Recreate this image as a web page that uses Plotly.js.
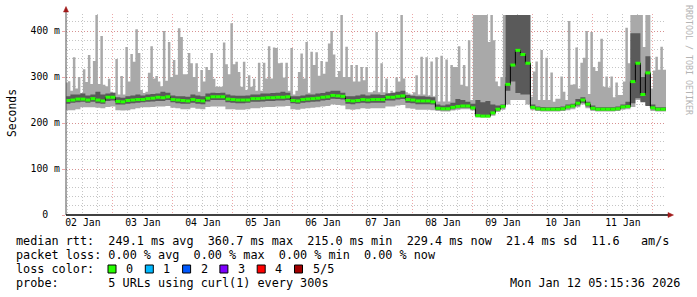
<!DOCTYPE html>
<html><head><meta charset="utf-8">
<script src="https://cdn.plot.ly/plotly-3.0.1.min.js"></script>
<style>html,body{margin:0;padding:0;background:#fff;}#chart{width:697px;height:297px;}</style>
</head><body><div id="chart"></div>
<script>
// ---- data (ms) ----
// hourly maximum RTT (top of smoke), starting 2026-01-02 05:00
const maxRtt = [
 288,291,270,343,275,300,265,317,289,348,
 285,335,435,285,389,283,280,296,268,266,
 339,262,302,262,365,290,350,333,404,352,
 272,265,268,309,367,297,302,290,280,400,
 292,376,300,337,305,406,387,306,306,352,
 330,300,330,268,315,290,322,315,352,296,
 279,279,279,375,328,306,417,328,333,311,
 279,333,272,304,279,296,270,331,270,331,
 297,367,297,364,363,330,331,299,331,270,
 363,262,270,311,351,297,376,266,355,326,
 354,303,335,307,333,373,400,349,300,313,
 435,300,366,300,326,290,326,290,322,293,
 322,267,267,270,398,267,330,267,297,265,
 270,267,299,290,435,297,267,264,262,267,
 304,262,344,262,343,260,334,258,343,247,
 346,247,338,247,326,322,322,367,283,326,
 280,380,250,435,435,435,435,435,435,376,
 435,380,290,280,300,435,300,435,435,435,
 435,435,435,435,435,435,257,312,334,250,
 359,250,342,250,310,246,253,253,301,268,
 250,422,283,284,364,275,331,342,400,263,
 398,322,313,333,383,279,301,277,301,256,
 288,261,261,290,407,330,435,435,435,435,
 435,365,435,435,275,314,344,316,366,316,
 316];
// 2-hourly series, starting 2026-01-02 05:00
const minRtt = [
 228,228,230,234,234,234,233,232,235,236,228,227,228,230,232,234,234,235,236,236,237,233,232,230,230,233,231,230,235,236,
 236,236,230,230,229,229,230,232,232,234,235,235,236,236,237,230,229,231,232,233,234,236,237,240,239,238,230,229,230,232,
 231,232,232,232,236,236,238,239,232,231,229,229,229,228,226,225,225,227,229,230,230,227,212,212,212,216,224,229,240,250,
 250,250,240,228,226,225,225,225,225,226,228,230,234,240,232,226,225,225,225,225,226,229,230,235,250,248,240,226,225,225,225];
const darkLo = [
 242,244,245,246,244,246,243,242,248,249,240,240,242,243,244,245,246,247,248,248,250,245,243,242,242,244,242,241,247,250,
 250,250,245,244,243,243,244,246,246,247,248,248,249,249,250,243,242,244,245,246,247,249,250,253,252,251,242,241,243,244,
 243,244,244,244,249,249,251,252,244,243,241,241,241,240,229,228,228,230,232,233,233,230,214,213,213,219,227,232,270,290,
 265,262,262,231,228,227,227,227,227,228,232,234,238,244,236,229,227,227,227,227,228,232,233,243,254,245,237,230,227,227,227];
const darkHi = [
 258,262,262,264,260,262,268,262,264,266,256,255,258,260,262,260,262,263,264,268,266,260,258,258,257,262,260,258,264,266,
 265,266,262,260,259,259,260,262,262,264,264,265,266,268,266,258,258,260,262,262,264,265,268,270,270,266,258,258,260,262,
 260,262,262,261,264,265,268,270,261,259,258,258,257,256,240,238,240,244,252,250,246,242,250,245,248,240,238,240,435,435,
 435,435,435,240,236,235,234,234,235,236,240,242,252,256,246,238,234,234,234,234,236,240,246,395,395,300,345,240,234,234,234];
const medianRtt = [
 249,250,252,252,250,253,250,248,256,256,247,246,249,250,251,251,253,254,256,255,257,251,250,249,248,251,249,248,254,257,
 257,257,252,251,250,250,250,253,253,254,255,255,256,256,257,249,248,251,252,253,254,256,257,260,259,258,249,248,249,251,
 250,251,251,251,256,256,258,259,251,250,248,248,248,246,232,231,231,234,236,237,237,233,216,215,215,222,230,236,284,326,
 358,349,330,234,231,230,230,230,230,231,235,237,243,250,241,232,230,230,230,230,231,235,236,290,330,262,309,233,230,230,230];
const yTickVals = [0,100,200,300,400];
const yTickText = ['0\u00a0\u00a0','100 m','200 m','300 m','400 m'];
const lossLabels = ['0','1','2','3','4','5/5'];
const lossColors = ['#26ff00','#00b8ff','#0059ff','#7e00ff','#ff0000','#a10000'];
const statLine = 'median rtt:  249.1 ms avg  360.7 ms max  215.0 ms min  229.4 ms now  21.4 ms sd  11.6   am/s';
const lossLine = 'packet loss: 0.00 % avg  0.00 % max  0.00 % min  0.00 % now';
const probeLine = 'probe:       5 URLs using curl(1) every 300s';
const stampLine = 'Mon Jan 12 05:15:36 2026';

// ---- build ----
const H = 3600e3;
const t0 = Date.UTC(2026,0,2,5,0,0);
// step series: x at bin starts plus one closing edge, y repeated for the closing edge
function steps(arr, hours) {
  const x = arr.map((_, i) => t0 + i * hours * H).concat([t0 + arr.length * hours * H]);
  const y = arr.concat([arr[arr.length - 1]]);
  return {x, y};
}
const sMin = steps(minRtt, 2), sMax = steps(maxRtt, 1);
const sLo = steps(darkLo, 2), sHi = steps(darkHi, 2), sMed = steps(medianRtt, 2);
const segX = [], segY = [];
medianRtt.forEach((v, k) => { segX.push(t0 + 2*k*H, t0 + 2*(k+1)*H, null); segY.push(v, v, null); });

const LIGHT = '#a9a9a9', DARK = '#5a5a5a';
const traces = [
 {type:'scatter', mode:'lines', x:sMin.x, y:sMin.y, line:{shape:'hv', width:0, color:LIGHT}, hoverinfo:'skip'},
 {type:'scatter', mode:'lines', x:sMax.x, y:sMax.y, line:{shape:'hv', width:0, color:LIGHT}, fill:'tonexty', fillcolor:LIGHT, hoverinfo:'skip'},
 {type:'scatter', mode:'lines', x:sLo.x, y:sLo.y, line:{shape:'hv', width:0, color:DARK}, hoverinfo:'skip'},
 {type:'scatter', mode:'lines', x:sHi.x, y:sHi.y, line:{shape:'hv', width:0, color:DARK}, fill:'tonexty', fillcolor:DARK, hoverinfo:'skip'},
 {type:'scatter', mode:'lines', x:sMed.x, y:sMed.y, line:{shape:'hv', color:'#000', width:1}, hoverinfo:'skip'},
 {type:'scatter', mode:'lines', x:segX, y:segY, connectgaps:false, line:{color:lossColors[0], width:3}, hoverinfo:'skip'}
];

const P = px => (px - 66) / 600;
const Q = py => (215 - py) / 201;
const MONO = 'DejaVu Sans Mono';
const MAJ = 'rgba(225,110,110,0.6)';
const MIN = 'rgba(150,150,150,0.55)';
const nb = s => s.replace(/ /g, '\u00a0');

const ann = [];
function txt(s, px, py, opt) {
  ann.push(Object.assign({text:nb(s), xref:'paper', yref:'paper', x:P(px), y:Q(py), xanchor:'left', yanchor:'middle',
    showarrow:false, borderpad:0, font:{family:MONO, size:11.8, color:'#000'}}, opt || {}));
}
txt(statLine, 15, 241);
txt(lossLine, 15, 255);
txt('loss color:', 15, 269);
txt(probeLine, 15, 283);
txt(stampLine, 681, 283, {xanchor:'right'});
ann.push({text:'Seconds', xref:'paper', yref:'paper', x:P(12), y:Q(113), textangle:-90, showarrow:false,
  xanchor:'center', yanchor:'middle', font:{family:MONO, size:11.4, color:'#000'}});
ann.push({text:nb('RRDTOOL / TOBI OETIKER'), xref:'paper', yref:'paper', x:P(689), y:Q(60), textangle:90, showarrow:false,
  xanchor:'center', yanchor:'middle', font:{family:MONO, size:8.3, color:'#b4b4b4'}});

const shapes = [];
lossLabels.forEach((lab, j) => {
  const x0 = 108 + 37.3 * j;
  shapes.push({type:'rect', xref:'paper', yref:'paper', x0:P(x0), x1:P(x0+8), y0:Q(273), y1:Q(265),
    fillcolor:lossColors[j], line:{color:'#000', width:1}});
  txt(lab, x0 + 17, 269);
});
// axis lines and arrows
shapes.push({type:'line', xref:'paper', yref:'paper', x0:P(66), x1:P(66), y0:Q(215), y1:Q(10), line:{color:'#505050', width:1}});
shapes.push({type:'line', xref:'paper', yref:'paper', x0:P(66), x1:P(669), y0:Q(215), y1:Q(215), line:{color:'#000', width:1.5}});
shapes.push({type:'path', xref:'paper', yref:'paper',
  path:`M ${P(63.5)} ${Q(12)} L ${P(68.5)} ${Q(12)} L ${P(66)} ${Q(6.5)} Z`, fillcolor:'#a01818', line:{color:'#a01818', width:0.5}});
shapes.push({type:'path', xref:'paper', yref:'paper',
  path:`M ${P(668)} ${Q(212.5)} L ${P(668)} ${Q(217.5)} L ${P(673.5)} ${Q(215)} Z`, fillcolor:'#a01818', line:{color:'#a01818', width:0.5}});

const layout = {
  width:697, height:297, margin:{l:66, r:31, t:14, b:82, pad:0},
  paper_bgcolor:'#ffffff', plot_bgcolor:'#ffffff', showlegend:false,
  font:{family:MONO, size:9.8, color:'#000'},
  xaxis:{type:'date', range:[t0 + 15*60e3, t0 + 15*60e3 + 240*H], tick0:'2026-01-01', dtick:86400000,
    ticklabelmode:'period', tickformat:'%d %b', showgrid:true, gridcolor:MAJ, griddash:'1px,2px', gridwidth:1,
    ticks:'', showline:false, zeroline:false, tickfont:{family:MONO, size:9.8},
    minor:{dtick:6*H, tick0:'2026-01-01', showgrid:true, gridcolor:MIN, griddash:'1px,2px', gridwidth:1, ticks:''}},
  yaxis:{range:[0,437], tickvals:yTickVals, ticktext:yTickText, showgrid:true, gridcolor:MAJ, griddash:'1px,2px', gridwidth:1,
    zeroline:false, showline:false, ticks:'outside', ticklen:3, tickcolor:MAJ, tickfont:{family:MONO, size:9.8},
    minor:{dtick:20, tick0:0, showgrid:true, gridcolor:MIN, griddash:'1px,2px', gridwidth:1, ticks:''}},
  annotations:ann, shapes:shapes
};
Plotly.newPlot('chart', traces, layout, {staticPlot:true, displayModeBar:false});
</script></body></html>
